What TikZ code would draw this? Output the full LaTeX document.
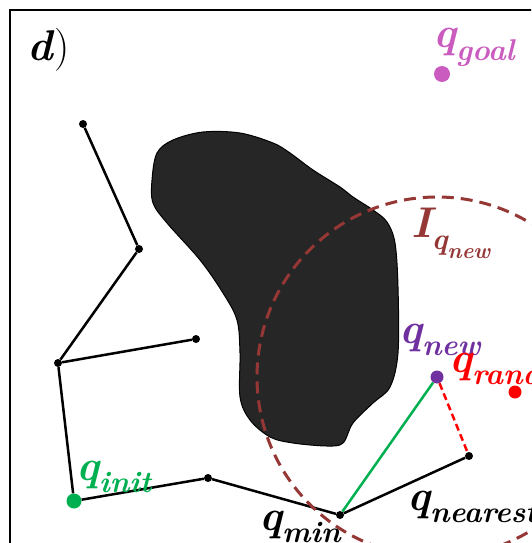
\documentclass[tikz,border=0pt]{standalone}
\usepackage{xcolor}
\usepackage{tikz}
\usetikzlibrary{positioning}

\definecolor{goalpink}{RGB}{201,92,190}
\definecolor{newpurple}{RGB}{112,48,160}
\definecolor{initgreen}{RGB}{0,176,80}
\definecolor{circbrown}{RGB}{149,55,53}
\definecolor{obstgray}{RGB}{38,38,38}

% bold italic symbol with a lowered subscript
\newcommand{\qlbl}[2]{{\bfseries\itshape #1\raisebox{-0.3em}{\fontsize{30}{31}\selectfont #2}}}

\tikzset{
  treedot/.style={circle, fill=black, inner sep=0pt, minimum size=8pt},
  bigdot/.style={circle, fill=#1, inner sep=0pt, minimum size=14pt},
  edge/.style={line width=2.5pt},
  lbl/.style={inner sep=0pt, anchor=base west, font=\fontsize{43}{45}\selectfont},
}

\begin{document}
\begin{tikzpicture}[x=1pt, y=-1pt]
  \useasboundingbox (0,0) rectangle (531,543);
  \begin{scope}
    \clip (0,0) rectangle (531,543);
    % frame
    \draw[line width=1.8pt] (10,600) -- (10,10) -- (600,10);
    \node[lbl, text=black] (panel) at (27,60) {\textbf{\textit{d}})};

    % obstacle
    \draw[fill=obstgray, line width=1pt] plot[smooth cycle, tension=0.55] coordinates {
      (203,132) (240,133) (273,143) (290,153) (313,170) (340,187) (353,197)
      (373,210) (387,222) (395,243) (398,287) (398,353) (390,387) (373,403)
      (353,423) (343,443) (327,446) (293,443) (270,437) (250,420) (240,397)
      (240,353) (237,320) (223,293) (200,260) (167,223) (153,203) (152,180)
      (157,153) (173,140)};

    % tree
    \node[treedot] (t1) at (83,124) {};
    \node[treedot] (t2) at (139,249) {};
    \node[treedot] (t3) at (58,363) {};
    \node[treedot] (t4) at (196,339) {};
    \node[treedot] (t5) at (208,478) {};
    \node[treedot] (qmin) at (340,515) {};
    \node[treedot] (qnear) at (469,456) {};
    \node[bigdot=initgreen, minimum size=15pt] (qinit) at (74,501) {};
    \node[bigdot=newpurple, minimum size=13pt] (qnew) at (437,377) {};
    \node[bigdot=red, minimum size=13pt] (qrand) at (515,392) {};
    \node[bigdot=goalpink, minimum size=16pt] (qgoal) at (442,74) {};

    \draw[edge] (t1) -- (t2) -- (t3) -- (t4);
    \draw[edge] (t3) -- (qinit);
    \draw[edge] (qinit) -- (t5) -- (qmin) -- (qnear);

    % neighbourhood of q_new
    \draw[circbrown, line width=3pt, dash pattern=on 12pt off 7pt]
      (qnew.center) circle[radius=180pt];
    \draw[red, edge, dash pattern=on 7pt off 4pt] (qnew) -- (qnear);
    \draw[initgreen, edge] (qmin) -- (qnew);

    % labels
    \node[lbl, text=goalpink] (goallbl) at (433,48) {\qlbl{q}{goal}};
    \node[lbl, text=circbrown] (ilbl) at (411,237) {\qlbl{I}{\qlbl{q}{\fontsize{22}{23}\selectfont new}}};
    \node[lbl, text=newpurple] (newlbl) at (399,343) {\qlbl{q}{new}};
    \node[lbl, text=red] (randlbl) at (449,372) {\qlbl{q}{rand}};
    \node[lbl, text=black] (nearlbl) at (407,510) {\qlbl{q}{nearest}};
    \node[lbl, text=initgreen] (initlbl) at (76,480) {\qlbl{q}{init}};
    \node[lbl, text=black] (minlbl) at (259,530) {\qlbl{q}{min}};
  \end{scope}
\end{tikzpicture}
\end{document}
